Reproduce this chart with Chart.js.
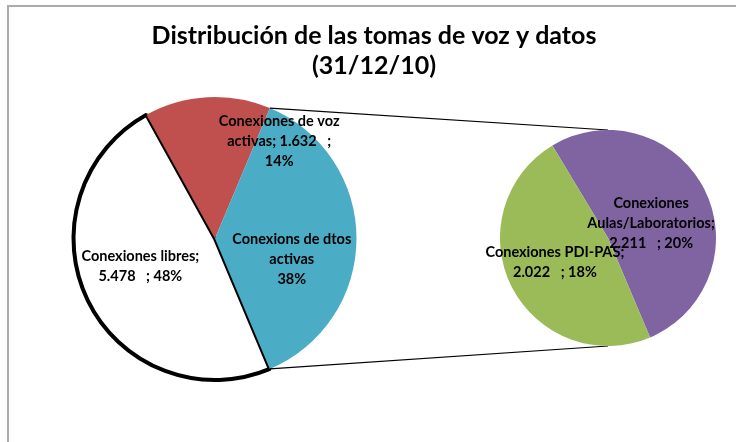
<!DOCTYPE html>
<html>
<head>
<meta charset="utf-8">
<script src="https://cdn.jsdelivr.net/npm/chart.js@4"></script>
<style>
  body { margin: 0; background: #fff; }
  #caja { position: relative; width: 736px; height: 442px; overflow: hidden; }
  #marco { position: absolute; left: 7px; top: 5px; width: 800px; height: 500px;
           border-top: 2px solid #ABABAB; border-left: 2px solid #ABABAB; }
  canvas { position: absolute; }
  #grafico_tomas { left: 0; top: 0; }
  #grafico_otros { left: 480px; top: 110px; }
</style>
</head>
<body>
<div id="caja">
  <div id="marco"></div>
  <canvas id="grafico_tomas" width="736" height="442"></canvas>
  <canvas id="grafico_otros" width="256" height="256"></canvas>
</div>
<script>
// datos (31/12/10)
var categorias = ['Conexiones libres', 'Conexiones de voz activas', 'Conexions de dtos activas'];
var valores = [5478, 1632];
var porcentajes = [48, 14, 38];

var categoriasDatos = ['Conexiones Aulas/Laboratorios', 'Conexiones PDI-PAS'];
var valoresDatos = [2211, 2022];
var porcentajesDatos = [20, 18];

var totalDatos = valoresDatos[0] + valoresDatos[1];
var total = valores[0] + valores[1] + totalDatos;

function miles(n) {
  return String(n).replace(/\B(?=(\d{3})+(?!\d))/g, '.');
}

// parte el texto en lineas que quepan en "ancho"
function partir(ctx, texto, ancho) {
  var salida = [];
  texto.split('\n').forEach(function(parrafo) {
    var palabras = parrafo.split(' ');
    var linea = palabras[0];
    for (var i = 1; i < palabras.length; i++) {
      var w = palabras[i];
      if (w === '') { linea += ' '; continue; }
      var prueba = linea + ' ' + w;
      if (ctx.measureText(prueba).width > ancho && linea.trim() !== '') {
        salida.push(linea);
        linea = w;
      } else {
        linea = prueba;
      }
    }
    salida.push(linea);
  });
  return salida;
}

var etiquetas = {
  id: 'etiquetas',
  afterDraw: function(chart, args, opts) {
    var ctx = chart.ctx;
    var arcos = chart.getDatasetMeta(0).data;
    ctx.save();
    ctx.font = 'bold 14.5px Lato';
    ctx.fillStyle = '#000';
    ctx.textAlign = 'center';
    ctx.textBaseline = 'middle';
    arcos.forEach(function(arco, i) {
      var p = arco.tooltipPosition();
      var lineas = partir(ctx, opts.textos[i], opts.ancho);
      var x = p.x + opts.desvios[i][0];
      var y = p.y + opts.desvios[i][1] - (lineas.length - 1) * 20 / 2;
      lineas.forEach(function(l, k) { ctx.fillText(l, x, y + k * 20); });
    });
    ctx.restore();
  }
};

// segundo grafico (desglose de las conexiones de datos)
var lienzoOtros = document.getElementById('grafico_otros');
var graficoOtros = new Chart(lienzoOtros, {
  type: 'pie',
  data: {
    labels: categoriasDatos,
    datasets: [{
      data: valoresDatos,
      backgroundColor: ['#8064A2', '#9BBB59'],
      borderWidth: 0
    }]
  },
  options: {
    responsive: false,
    animation: false,
    events: [],
    rotation: -31,
    layout: { padding: 20 },
    plugins: {
      legend: { display: false },
      tooltip: { enabled: false },
      etiquetas: {
        ancho: 145,
        textos: categoriasDatos.map(function(c, i) {
          return c + '; ' + miles(valoresDatos[i]) + '   ; ' + porcentajesDatos[i] + '%';
        }),
        desvios: [[-5, 10], [-5, 0]]
      }
    }
  },
  plugins: [etiquetas]
});

var conectores = {
  id: 'conectores',
  afterDatasetsDraw: function(chart) {
    var arco = chart.getDatasetMeta(0).data[2];
    var sub = graficoOtros.getDatasetMeta(0).data[0];
    var bx = sub.x + lienzoOtros.offsetLeft;
    var by = sub.y + lienzoOtros.offsetTop;
    var r = sub.outerRadius;
    var ctx = chart.ctx;
    ctx.save();
    ctx.strokeStyle = '#000';
    ctx.lineWidth = 1.25;
    ctx.beginPath();
    ctx.moveTo(arco.x + arco.outerRadius * Math.cos(arco.startAngle), arco.y + arco.outerRadius * Math.sin(arco.startAngle));
    ctx.lineTo(bx, by - r);
    ctx.moveTo(arco.x + arco.outerRadius * Math.cos(arco.endAngle), arco.y + arco.outerRadius * Math.sin(arco.endAngle));
    ctx.lineTo(bx, by + r);
    ctx.stroke();
    ctx.restore();
  }
};

new Chart(document.getElementById('grafico_tomas'), {
  type: 'pie',
  data: {
    labels: categorias,
    datasets: [{
      data: [valores[0], valores[1], totalDatos],
      backgroundColor: ['#FFFFFF', '#C0504D', '#4BACC6'],
      borderColor: '#000',
      borderWidth: [4, 0, 0]
    }]
  },
  options: {
    responsive: false,
    animation: false,
    events: [],
    rotation: 90 + totalDatos / total * 180,
    layout: { padding: { left: 71.5, right: 59.5, top: 0, bottom: 60 } },
    scales: {
      y: {
        display: true,
        position: 'right',
        grid: { display: false },
        ticks: { display: false },
        border: { display: false },
        afterFit: function(s) { s.width = 318; }
      }
    },
    plugins: {
      legend: { display: false },
      tooltip: { enabled: false },
      title: {
        display: true,
        text: ['Distribución de las tomas de voz y datos', '(31/12/10)'],
        color: '#000',
        font: { family: 'Lato', size: 25, weight: 'bold', lineHeight: '30px' },
        padding: { top: 21, bottom: 14 }
      },
      etiquetas: {
        ancho: 128,
        textos: [
          categorias[0] + '; ' + miles(valores[0]) + '   ; ' + porcentajes[0] + '%',
          categorias[1] + '; ' + miles(valores[1]) + '   ; ' + porcentajes[1] + '%',
          categorias[2] + '\n' + porcentajes[2] + '%'
        ],
        desvios: [[-11, -3], [68, -27], [6, 21]]
      }
    }
  },
  plugins: [conectores, etiquetas]
});
</script>
</body>
</html>
